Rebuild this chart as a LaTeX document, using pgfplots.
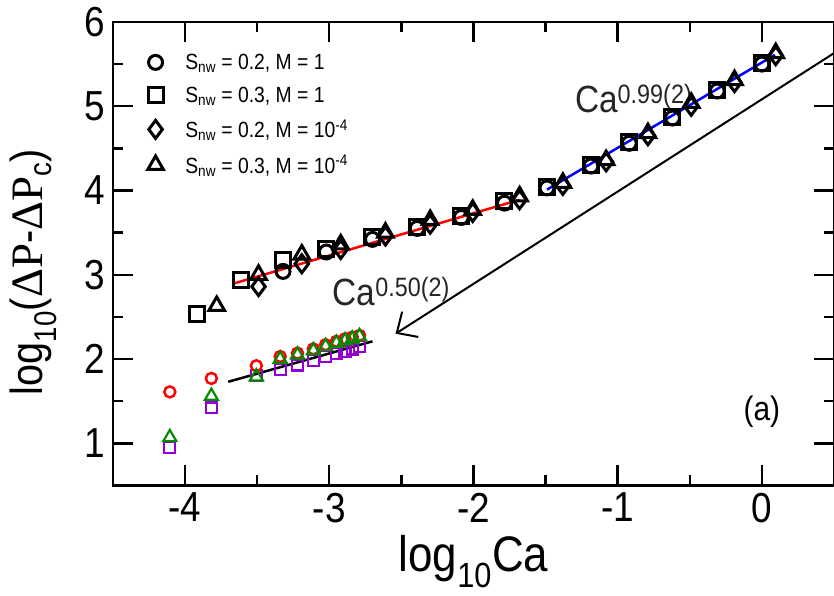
\documentclass[border=0pt]{standalone}
\usepackage{pgfplots}
\pgfplotsset{compat=1.18}
\usetikzlibrary{arrows.meta,calc}
\usepackage{fontspec}
\setmainfont{Liberation Sans}[FakeStretch=0.88]
\newfontfamily\serifP{Liberation Serif}
\definecolor{grred}{RGB}{255,0,0}
\definecolor{grgreen}{RGB}{0,139,0}
\definecolor{grviolet}{RGB}{148,0,211}
\definecolor{grblue}{RGB}{0,0,255}

\begin{document}
\begin{tikzpicture}
\begin{axis}[
    name=ax,
    scale only axis,
    width=722pt, height=464pt,
    xmin=-4.5, xmax=0.5, ymin=0.5, ymax=6,
    xtick={-4,-3,-2,-1,0}, ytick={1,2,3,4,5,6},
    minor tick num=1,
    tick align=inside,
    major tick length=20pt, minor tick length=10pt,
    axis line style={line width=2.5pt},
    every tick/.style={black, line width=2.5pt},
    tick label style={font=\fontsize{42}{44}\selectfont},
    xticklabel style={yshift=-4pt},
    yticklabel style={xshift=-4pt},
    /pgf/number format/assume math mode=true,
    xlabel={\fontsize{50}{52}\selectfont log\textsubscript{10}Ca},
    ylabel={\fontsize{45}{47}\selectfont log\textsubscript{10}({\serifP ΔP}-{\serifP ΔP}\textsubscript{c})},
    every axis x label/.style={at={(axis description cs:0.5,-0.165)}, anchor=center},
    every axis y label/.style={at={(axis description cs:-0.11,0.46)}, rotate=90, anchor=center},
    legend style={at={(axis description cs:0.044,0.94)}, anchor=north west,
        draw=none, fill=none, font=\fontsize{22}{24}\selectfont,
        row sep=12pt, column sep=20pt},
    legend cell align=left,
]
% black series
\addplot[only marks, mark=o, mark size=7pt, mark options={black, line width=3pt}] coordinates {
 (-3.32,3.04) (-3.02,3.27) (-2.70,3.42) (-2.39,3.55) (-2.085,3.68) (-1.785,3.85)
 (-1.49,4.03) (-1.185,4.29) (-0.92,4.56) (-0.62,4.86) (-0.31,5.18) (0.0,5.50)};
\addlegendentry{S\textsubscript{nw} = 0.2, M = 1}
\addplot[only marks, mark=square, mark size=7.5pt, mark options={black, line width=3pt}] coordinates {
 (-3.92,2.53) (-3.61,2.94) (-3.32,3.17) (-3.02,3.31) (-2.70,3.45) (-2.39,3.57)
 (-2.085,3.70) (-1.785,3.87) (-1.49,4.04) (-1.185,4.30) (-0.92,4.57) (-0.62,4.87)
 (-0.31,5.19) (0.0,5.51)};
\addlegendentry{S\textsubscript{nw} = 0.3, M = 1}
\addplot[only marks, mark=diamond, mark size=9pt, mark options={black, line width=3pt}] coordinates {
 (-3.49,2.86) (-3.19,3.13) (-2.92,3.30) (-2.61,3.46) (-2.30,3.60) (-2.005,3.74)
 (-1.68,3.89) (-1.38,4.06) (-1.08,4.34) (-0.79,4.65) (-0.49,5.00) (-0.19,5.28) (0.096,5.60)};
\addlegendentry{S\textsubscript{nw} = 0.2, M = 10\textsuperscript{-4}}
\addplot[only marks, mark=triangle, mark size=9pt, mark options={black, line width=3pt}] coordinates {
 (-3.78,2.63) (-3.49,3.00) (-3.19,3.24) (-2.92,3.36) (-2.61,3.50) (-2.30,3.65)
 (-2.005,3.77) (-1.68,3.93) (-1.38,4.09) (-1.08,4.36) (-0.79,4.68) (-0.49,5.04)
 (-0.19,5.31) (0.096,5.63)};
\addlegendentry{S\textsubscript{nw} = 0.3, M = 10\textsuperscript{-4}}
% coloured series
\addplot[forget plot, only marks, mark=square, mark size=5.5pt, mark options={grviolet, line width=2.2pt}] coordinates {
 (-4.105,0.95) (-3.817,1.42) (-3.505,1.80) (-3.34,1.88) (-3.22,1.93) (-3.11,1.98)
 (-3.025,2.03) (-2.95,2.07) (-2.89,2.09) (-2.84,2.12) (-2.79,2.15)};
\addplot[forget plot, only marks, mark=o, mark size=5.5pt, mark options={grred, line width=2.5pt}] coordinates {
 (-4.105,1.61) (-3.817,1.77) (-3.505,1.92) (-3.34,2.03) (-3.22,2.07) (-3.11,2.12)
 (-3.025,2.17) (-2.95,2.21) (-2.89,2.24) (-2.84,2.26) (-2.79,2.28)};
\addplot[forget plot, only marks, mark=triangle, mark size=7.5pt, mark options={grgreen, line width=2.2pt}] coordinates {
 (-4.105,1.07) (-3.817,1.56) (-3.505,1.79) (-3.34,2.00) (-3.22,2.05) (-3.11,2.10)
 (-3.025,2.15) (-2.95,2.19) (-2.89,2.22) (-2.84,2.24) (-2.79,2.27)};
% fits
\addplot[forget plot, grred, line width=2.5pt] coordinates {(-3.655,2.90) (-1.68,3.89)};
\addplot[forget plot, grblue, line width=2.5pt] coordinates {(-1.49,4.01) (0.09,5.61)};
\addplot[forget plot, black, line width=2.5pt] coordinates {(-3.70,1.73) (-2.70,2.21)};
% annotations
\draw[line width=2pt, -{Straight Barb[length=16pt,width=30pt,line width=2pt]}]
  (axis cs:0.5,5.63) -- (axis cs:-2.54,2.30);
\node[anchor=base west, font=\fontsize{38}{40}\selectfont, text=black!85]
  at (axis cs:-1.32,4.93) {Ca\textsuperscript{0.99(2)}};
\node[anchor=base west, font=\fontsize{38}{40}\selectfont, text=black!85]
  at (axis cs:-3.00,2.63) {Ca\textsuperscript{0.50(2)}};
\node[font=\fontsize{34}{36}\selectfont] at (axis cs:0.0,1.37) {(a)};
\end{axis}
\pgfresetboundingbox
\useasboundingbox ($(ax.south west)+(-113pt,-110pt)$) rectangle ($(ax.north east)+(0pt,22pt)$);
\end{tikzpicture}
\end{document}
